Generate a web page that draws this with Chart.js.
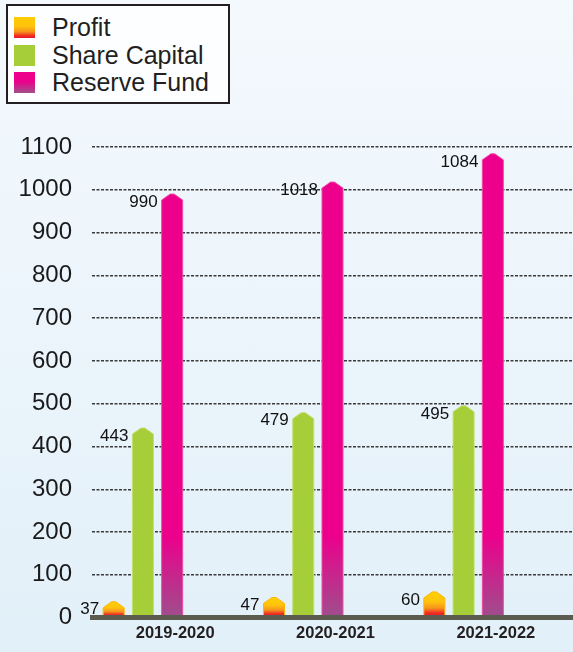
<!DOCTYPE html>
<html>
<head>
<meta charset="utf-8">
<script src="https://cdn.jsdelivr.net/npm/chart.js@4.4.1/dist/chart.umd.min.js"></script>
<style>
html,body{margin:0;padding:0;}
body{width:573px;height:652px;overflow:hidden;position:relative;background:linear-gradient(#f4f9fd,#e2f0f9);font-family:'Liberation Sans',Arial,sans-serif;}
#c{position:absolute;left:0;top:0;}
#legend{position:absolute;left:6px;top:4px;width:220px;height:96px;border:2px solid #231f20;background:#fdfeff;}
.row{position:absolute;left:0;height:26px;line-height:26px;font-size:25px;color:#231f20;white-space:nowrap;}
.sw{position:absolute;left:6px;top:3px;width:21px;height:21px;}
.tx{position:absolute;left:44px;top:0;}
</style>
</head>
<body>
<canvas id="c" width="573" height="652"></canvas>
<div id="legend"></div>
<script>
// ---- data ----
const categories = ['2019-2020', '2020-2021', '2021-2022'];
const seriesNames = ['Profit', 'Share Capital', 'Reserve Fund'];
const profit = [37, 47, 60];
const shareCapital = [443, 479, 495];
const reserveFund = [990, 1018, 1084];
const yMin = 0;
const yMax = 1100;
const yStep = 100;

// ---- styles ----
const FONT = "'Liberation Sans', Arial, sans-serif";
const swatchCss = [
  'linear-gradient(#ffcc00 0%, #ffc20e 45%, #f7941d 70%, #ee2a24 90%, #e8182a 100%)',
  '#a6ce39',
  'linear-gradient(#ec008c 0%, #ec008c 45%, #a2508c 100%)'
];

function profitFill(ctx, p) {
  const g = ctx.createLinearGradient(0, p.y, 0, p.base);
  g.addColorStop(0, '#ffd200');
  g.addColorStop(0.4, '#ffc20e');
  g.addColorStop(0.65, '#f7941d');
  g.addColorStop(0.85, '#ee2a24');
  g.addColorStop(1, '#e8182a');
  return g;
}
function greenFill() { return '#a6ce39'; }
function pinkFill(ctx, p, yScale) {
  const g = ctx.createLinearGradient(0, yScale.getPixelForValue(190), 0, p.base);
  g.addColorStop(0, '#ec008c');
  g.addColorStop(1, '#9f4e8c');
  return g;
}

// ---- legend (HTML) ----
const legend = document.getElementById('legend');
seriesNames.forEach((name, i) => {
  const row = document.createElement('div');
  row.className = 'row';
  row.style.top = (8 + i * 27.5) + 'px';
  const sw = document.createElement('div');
  sw.className = 'sw';
  sw.style.background = swatchCss[i];
  const tx = document.createElement('span');
  tx.className = 'tx';
  tx.textContent = name;
  row.appendChild(sw);
  row.appendChild(tx);
  legend.appendChild(row);
});

// ---- custom bar shape plugin (house-shaped bars + value labels) ----
const houseBars = {
  id: 'houseBars',
  afterDatasetsDraw(chart) {
    const ctx = chart.ctx;
    const yScale = chart.scales.y;
    chart.data.datasets.forEach((ds, i) => {
      if (!ds.fillFn) return;
      const meta = chart.getDatasetMeta(i);
      meta.data.forEach((el, j) => {
        const p = el.getProps(['x', 'y', 'base', 'width'], true);
        const l = p.x - p.width / 2, r = p.x + p.width / 2;
        const peak = 6;
        ctx.save();
        ctx.beginPath();
        ctx.moveTo(l, p.base);
        ctx.lineTo(l, p.y + peak);
        ctx.lineTo(p.x - 2, p.y);
        ctx.lineTo(p.x + 2, p.y);
        ctx.lineTo(r, p.y + peak);
        ctx.lineTo(r, p.base);
        ctx.closePath();
        ctx.fillStyle = ds.fillFn(ctx, p, yScale);
        ctx.fill();
        ctx.lineWidth = 1;
        ctx.strokeStyle = ds.edgeColor;
        ctx.stroke();
        ctx.font = '17px ' + FONT;
        ctx.fillStyle = '#111111';
        ctx.textAlign = 'right';
        ctx.textBaseline = 'middle';
        ctx.fillText(String(ds.data[j]), l - 4, p.y + 8);
        ctx.restore();
      });
    });
  }
};

const transparent = 'rgba(0,0,0,0)';
const spacer = categories.map(() => null); // empty slots so each bar group sits left in its category

new Chart(document.getElementById('c'), {
  type: 'bar',
  data: {
    labels: categories,
    datasets: [
      { label: seriesNames[0], data: profit, backgroundColor: transparent, fillFn: profitFill, edgeColor: '#ffb400' },
      { label: seriesNames[1], data: shareCapital, backgroundColor: transparent, fillFn: greenFill, edgeColor: '#c2df72' },
      { label: seriesNames[2], data: reserveFund, backgroundColor: transparent, fillFn: pinkFill, edgeColor: '#f04aa6' },
      { label: '', data: spacer, backgroundColor: transparent },
      { label: '', data: spacer, backgroundColor: transparent }
    ]
  },
  options: {
    responsive: false,
    animation: false,
    devicePixelRatio: 1,
    categoryPercentage: 0.912,
    barPercentage: 0.718,
    layout: { padding: { top: 147, left: 0, right: 0, bottom: 0 } },
    plugins: { legend: { display: false }, tooltip: { enabled: false } },
    scales: {
      x: {
        grid: { display: false, drawTicks: false },
        border: { display: true, color: '#5b5b50', width: 5, z: 1 },
        ticks: { color: '#231f20', padding: 6, labelOffset: 3, font: { family: FONT, size: 16.5, weight: 'bold' } },
        afterFit(s) { s.height = 31; }
      },
      y: {
        min: yMin,
        max: yMax,
        grid: { color: '#3a3a3a', lineWidth: 1.5, drawTicks: false },
        border: { display: false, dash: [3, 1.5] },
        ticks: { stepSize: yStep, color: '#1a1a1a', padding: 20, font: { family: FONT, size: 24 }, callback: (v) => String(v) },
        afterFit(s) { s.width = 92; }
      }
    }
  },
  plugins: [houseBars]
});
</script>
</body>
</html>
